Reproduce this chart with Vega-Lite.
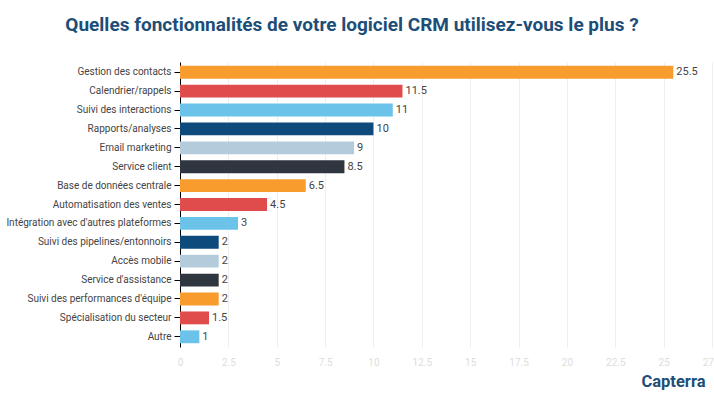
{
  "$schema": "https://vega.github.io/schema/vega-lite/v6.json",
  "autosize": "none",
  "width": 532,
  "height": 285,
  "padding": {"left": 180, "top": 62, "right": 2, "bottom": 52},
  "background": "white",
  "title": {
    "text": "Quelles fonctionnalités de votre logiciel CRM utilisez-vous le plus ?",
    "font": "Roboto",
    "fontSize": 19,
    "fontWeight": "bold",
    "color": "#1d4e78",
    "anchor": "middle",
    "dx": -94,
    "offset": 27
  },
  "config": {"view": {"stroke": null}, "font": "Roboto"},
  "data": {
    "values": [
      {"feature": "Gestion des contacts", "value": 25.5, "color": "orange"},
      {"feature": "Calendrier/rappels", "value": 11.5, "color": "red"},
      {"feature": "Suivi des interactions", "value": 11, "color": "lightblue"},
      {"feature": "Rapports/analyses", "value": 10, "color": "darkblue"},
      {"feature": "Email marketing", "value": 9, "color": "pale"},
      {"feature": "Service client", "value": 8.5, "color": "charcoal"},
      {"feature": "Base de données centrale", "value": 6.5, "color": "orange"},
      {"feature": "Automatisation des ventes", "value": 4.5, "color": "red"},
      {"feature": "Intégration avec d'autres plateformes", "value": 3, "color": "lightblue"},
      {"feature": "Suivi des pipelines/entonnoirs", "value": 2, "color": "darkblue"},
      {"feature": "Accès mobile", "value": 2, "color": "pale"},
      {"feature": "Service d'assistance", "value": 2, "color": "charcoal"},
      {"feature": "Suivi des performances d'équipe", "value": 2, "color": "orange"},
      {"feature": "Spécialisation du secteur", "value": 1.5, "color": "red"},
      {"feature": "Autre", "value": 1, "color": "lightblue"}
    ]
  },
  "encoding": {
    "y": {
      "field": "feature",
      "type": "nominal",
      "sort": null,
      "scale": {"paddingInner": 0.32, "paddingOuter": 0.2},
      "axis": {
        "title": null,
        "labelFont": "Roboto",
        "labelFontSize": 10,
        "labelColor": "#444444",
        "labelLimit": 200,
        "domainColor": "#000000",
        "tickColor": "#000000",
        "tickSize": 6,
        "labelPadding": 3
      }
    },
    "x": {
      "field": "value",
      "type": "quantitative",
      "scale": {"domain": [0, 27.5], "nice": false},
      "axis": {
        "values": [0, 2.5, 5, 7.5, 10, 12.5, 15, 17.5, 20, 22.5, 25, 27.5],
        "format": ".1~f",
        "title": "Capterra",
        "titleFont": "Roboto",
        "titleFontSize": 16.5,
        "titleFontWeight": "bold",
        "titleColor": "#1d4e78",
        "titleAnchor": "end",
        "titleAlign": "right",
        "titlePadding": 6,
        "titleX": 525,
        "labelColor": "#dddddd",
        "labelFontSize": 10,
        "labelPadding": 10,
        "domain": false,
        "ticks": false,
        "gridColor": "#eeeeee",
        "labelFlush": false
      }
    }
  },
  "layer": [
    {
      "mark": {"type": "bar"},
      "encoding": {
        "color": {
          "field": "color",
          "type": "nominal",
          "legend": null,
          "scale": {
            "domain": ["orange", "red", "lightblue", "darkblue", "pale", "charcoal"],
            "range": ["#f89c2e", "#e04b4b", "#6cc3ea", "#0e4a7c", "#b4cbdc", "#2f3640"]
          }
        }
      }
    },
    {
      "mark": {"type": "text", "align": "left", "dx": 3, "fontSize": 11, "color": "#444444", "font": "Roboto"},
      "encoding": {"text": {"field": "value", "type": "quantitative"}}
    }
  ]
}
